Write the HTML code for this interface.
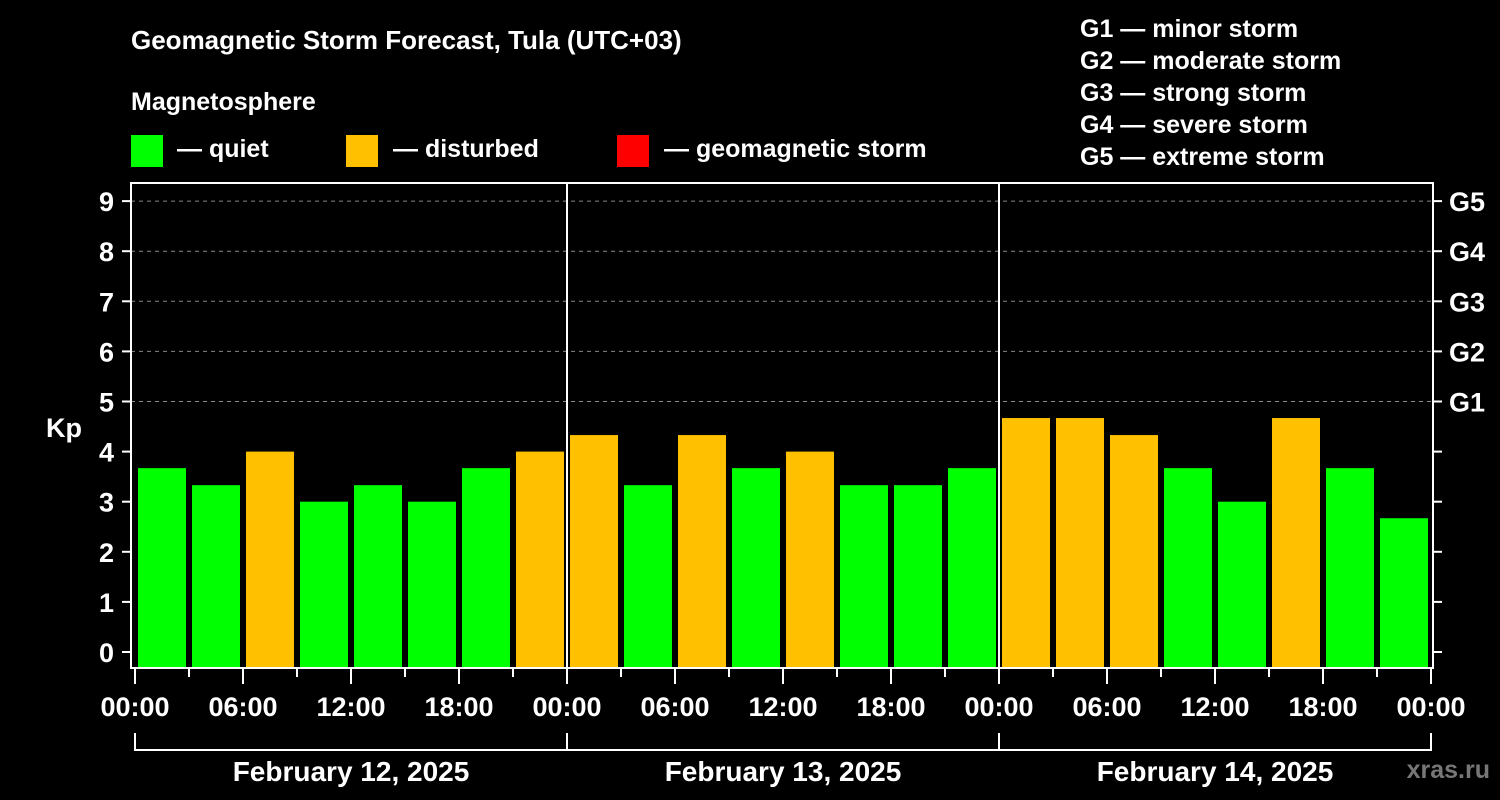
<!DOCTYPE html>
<html><head><meta charset="utf-8"><style>
body{margin:0;background:#000;}
svg{display:block;font-family:"Liberation Sans",Arial,sans-serif;font-weight:bold;}
</style></head><body>
<svg id="chart" width="1500" height="800" viewBox="0 0 1500 800">
<rect width="1500" height="800" fill="#000"/>
<text x="131" y="49" fill="#fff" font-size="26">Geomagnetic Storm Forecast, Tula (UTC+03)</text>
<text x="131" y="110" fill="#fff" font-size="25">Magnetosphere</text>
<g><rect x="131" y="135" width="32" height="32" fill="#00ff00"/><text x="177" y="157" fill="#fff" font-size="25">— quiet</text></g>
<g><rect x="346" y="135" width="32" height="32" fill="#ffc000"/><text x="393" y="157" fill="#fff" font-size="25">— disturbed</text></g>
<g><rect x="617" y="135" width="32" height="32" fill="#ff0000"/><text x="664" y="157" fill="#fff" font-size="25">— geomagnetic storm</text></g>
<g fill="#fff" font-size="25">
<text x="1080" y="37">G1 — minor storm</text>
<text x="1080" y="69">G2 — moderate storm</text>
<text x="1080" y="101">G3 — strong storm</text>
<text x="1080" y="133">G4 — severe storm</text>
<text x="1080" y="165">G5 — extreme storm</text>
</g>
<text x="64" y="437" fill="#fff" font-size="27" text-anchor="middle">Kp</text>
<text x="1490" y="778" fill="#777" font-size="25" text-anchor="end">xras.ru</text>
<g id="grid"></g><g id="bars"></g><g id="axes"></g>
</svg>
<script>
const days = ["February 12, 2025","February 13, 2025","February 14, 2025"];
const xTickLabels = ["00:00","06:00","12:00","18:00"];
const yTicks = [0,1,2,3,4,5,6,7,8,9];
const gLabels = ["G1","G2","G3","G4","G5"];
const kpValues = [3.67,3.33,4,3,3.33,3,3.67,4, 4.33,3.33,4.33,3.67,4,3.33,3.33,3.67, 4.67,4.67,4.33,3.67,3,4.67,3.67,2.67];

const NS="http://www.w3.org/2000/svg";
const L=131,R=1433,T=183,B=668,X0=135,DAY=432;
const y=v=>652-v*50.1;
const x=slot=>X0+slot*DAY/8;
function mk(tag,attrs,parent,text){const e=document.createElementNS(NS,tag);for(const k in attrs)e.setAttribute(k,attrs[k]);if(text!==undefined)e.textContent=text;parent.appendChild(e);return e;}
const grid=document.getElementById('grid'),bars=document.getElementById('bars'),axes=document.getElementById('axes');
gLabels.forEach((g,i)=>{const v=5+i;
 const ln=mk('line',{x1:L,x2:R,y1:y(v),y2:y(v),stroke:'#888','stroke-dasharray':'4,4','stroke-width':1},grid);
 
 
 const t=mk('text',{x:1449,y:y(v)+10,fill:'#fff','font-size':27},axes,g);
 
 
});
kpValues.forEach((v,i)=>{
 const r=mk('rect',{x:x(i)+3,y:y(v),width:48,height:B-y(v),fill:v>=5?'#ff0000':(v>=4?'#ffc000':'#00ff00')},bars);
 
 
});
mk('rect',{x:L,y:T,width:R-L,height:B-T,fill:'none',stroke:'#fff','stroke-width':2},axes);
for(let d=1;d<days.length;d++){mk('line',{x1:X0+d*DAY,x2:X0+d*DAY,y1:T,y2:B,stroke:'#fff','stroke-width':2},axes);}
yTicks.forEach(v=>{
 mk('line',{x1:L-9,x2:L,y1:y(v),y2:y(v),stroke:'#fff','stroke-width':2},axes);
 mk('line',{x1:R,x2:R+9,y1:y(v),y2:y(v),stroke:'#fff','stroke-width':2},axes);
 const t=mk('text',{x:114,y:y(v)+10,fill:'#fff','font-size':27,'text-anchor':'end'},axes,String(v));
 
 
});
for(let s=0;s<=days.length*8;s++){
 const major=s%2===0;
 mk('line',{x1:x(s),x2:x(s),y1:B,y2:B+(major?16:9),stroke:'#fff','stroke-width':2},axes);
 if(major){const t=mk('text',{x:x(s),y:716,fill:'#fff','font-size':27,'text-anchor':'middle'},axes,xTickLabels[(s/2)%4]);
  
  }
}
mk('polyline',{points:`${X0},733 ${X0},750 ${X0+days.length*DAY},750 ${X0+days.length*DAY},733`,fill:'none',stroke:'#fff','stroke-width':2},axes);
days.forEach((d,i)=>{
 if(i>0)mk('line',{x1:X0+i*DAY,x2:X0+i*DAY,y1:733,y2:750,stroke:'#fff','stroke-width':2},axes);
 const t=mk('text',{x:X0+i*DAY+DAY/2,y:781,fill:'#fff','font-size':28,'text-anchor':'middle'},axes,d);
 
 
});
</script>
</body></html>
